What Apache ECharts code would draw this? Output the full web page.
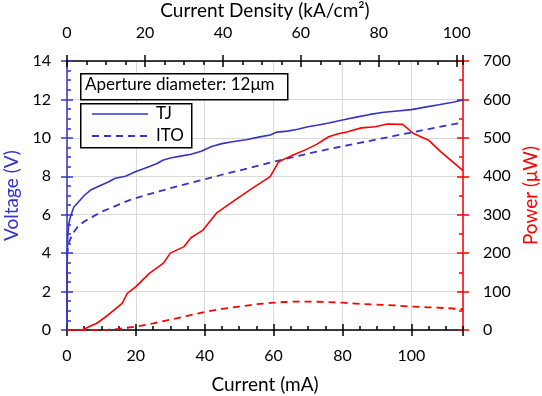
<!DOCTYPE html>
<html>
<head>
<meta charset="utf-8">
<script src="https://cdn.jsdelivr.net/npm/echarts@6/dist/echarts.min.js"></script>
<style>
  html, body { margin: 0; padding: 0; background: #fff; }
  #chart { width: 542px; height: 396px; }
</style>
</head>
<body>
<div id="chart"></div>
<script>
// voltage curves (V) vs current (mA)
var tjCurrent = [0, 0, 0.2, 0.5, 1, 2, 3, 5, 7, 10, 12, 14, 17, 20, 23, 26, 28, 30, 33, 36, 39, 42, 45, 48, 52, 56, 59, 61, 64, 67, 70, 73, 76, 80, 84, 88, 92, 96, 100, 104, 108, 112, 115];
var tjVoltage = [0, 2.9, 4.8, 5.5, 5.9, 6.4, 6.6, 7.0, 7.3, 7.55, 7.7, 7.9, 8.0, 8.25, 8.45, 8.65, 8.85, 8.95, 9.05, 9.15, 9.3, 9.55, 9.7, 9.8, 9.9, 10.05, 10.15, 10.3, 10.35, 10.45, 10.58, 10.67, 10.77, 10.93, 11.08, 11.22, 11.33, 11.4, 11.47, 11.6, 11.72, 11.85, 11.97];

var itoCurrent = [0, 0.3, 1, 2, 3, 5, 7.5, 10, 14, 18, 22, 26, 30, 35, 40, 45, 50, 55, 60, 65, 70, 75, 80, 85, 90, 95, 100, 105, 110, 115];
var itoVoltage = [3.9, 4.4, 4.75, 5.1, 5.35, 5.65, 5.9, 6.15, 6.45, 6.75, 6.97, 7.18, 7.38, 7.62, 7.85, 8.08, 8.3, 8.53, 8.76, 8.97, 9.18, 9.37, 9.56, 9.74, 9.92, 10.1, 10.28, 10.46, 10.64, 10.8];

// optical power curves (uW) vs current (mA)
var tjPowCurrent = [0, 4.5, 6.5, 8.5, 10, 12.5, 16, 17.5, 20, 24, 28, 30, 34, 36, 39.5, 43.5, 47.5, 53, 59, 61.5, 65.5, 69.5, 72.5, 76, 78.5, 81.5, 85.5, 89.5, 93, 97.5, 100.5, 105, 108.5, 115];
var tjPower = [0, 0, 9, 17, 26, 43, 69, 95, 113, 148, 174, 200, 217, 240, 260, 305, 330, 364, 399, 438, 455, 470, 483, 503, 510, 516, 526, 529, 536, 535, 512, 494, 464, 415];

var itoPowCurrent = [0, 9, 12, 15, 20, 25, 30, 35, 40, 45, 50, 55, 60, 65, 70, 75, 80, 85, 90, 95, 100, 105, 110, 115];
var itoPower = [0, 0, 1, 3, 9, 17, 27, 37, 47, 55, 61, 67, 71, 74, 74, 73, 71, 68, 66, 64, 61, 59, 57, 54];

var BLUE = '#3434c8';
var RED = '#f00';
var FONT = 'Lato';
var DASH = [7, 5];

function pairs(xs, ys) {
	var out = [];
	for (var i = 0; i < xs.length; i++) out.push([xs[i], ys[i]]);
	return out;
}

// axis that only draws ticks (to fake crossing and minor ticks)
function tickAxis(grid, pos, min, max, interval, inside, len, color) {
	return {
		type: 'value', gridIndex: grid, position: pos, min: min, max: max, interval: interval,
		axisLine: { show: false, onZero: false },
		axisTick: { show: len > 0, inside: inside, length: len, lineStyle: { color: color, width: 1.5 } },
		axisLabel: { show: false },
		splitLine: { show: false }
	};
}

var gridBox = { left: 67, right: 79, top: 61, bottom: 66, outerBoundsMode: 'none' };

var chart = echarts.init(document.getElementById('chart'), null, { renderer: 'canvas' });

chart.setOption({
	animation: false,
	textStyle: { fontFamily: FONT },
	grid: [gridBox, gridBox, gridBox],
	xAxis: [{
		type: 'value', gridIndex: 0, position: 'bottom', min: 0, max: 115, interval: 20,
		name: 'Current (mA)', nameLocation: 'middle', nameGap: 45,
		nameTextStyle: { fontFamily: FONT, fontSize: 19, color: '#000' },
		axisLine: { onZero: false, lineStyle: { color: '#000', width: 1.5 } },
		axisTick: { inside: true, length: 6, lineStyle: { color: '#000', width: 1.5 } },
		axisLabel: { margin: 18, fontSize: 16, color: '#000', showMaxLabel: false },
		splitLine: { show: true, lineStyle: { color: '#d9d9d9', width: 1 } }
	}, {
		type: 'value', gridIndex: 0, position: 'top', min: 0, max: 101.6, interval: 20,
		name: 'Current Density (kA/cm\u00b2)', nameLocation: 'middle', nameGap: 40,
		nameTextStyle: { fontFamily: FONT, fontSize: 19, color: '#000' },
		axisLine: { onZero: false, lineStyle: { color: '#000', width: 1.5 } },
		axisTick: { inside: true, length: 6, lineStyle: { color: '#000', width: 1.5 } },
		axisLabel: { margin: 20, fontSize: 16, color: '#000', showMaxLabel: false },
		splitLine: { show: false }
	},
		tickAxis(1, 'bottom', 0, 115, 5, true, 4, '#000'),
		tickAxis(1, 'top', 0, 101.6, 5, true, 4, '#000'),
		tickAxis(2, 'bottom', 0, 115, 20, false, 6, '#000'),
		tickAxis(2, 'top', 0, 101.6, 20, false, 6, '#000')
	],
	yAxis: [{
		type: 'value', gridIndex: 0, position: 'left', min: 0, max: 14, interval: 2,
		name: 'Voltage (V)', nameLocation: 'middle', nameGap: 45,
		nameTextStyle: { fontFamily: FONT, fontSize: 19, color: BLUE },
		axisLine: { onZero: false, lineStyle: { color: BLUE, width: 1.5 } },
		axisTick: { inside: true, length: 6, lineStyle: { color: BLUE, width: 1.5 } },
		minorTick: { show: true, splitNumber: 4, length: 4, lineStyle: { color: BLUE, width: 1.5 } },
		axisLabel: { margin: 16, fontSize: 16, color: '#000' },
		splitLine: { show: true, lineStyle: { color: '#d9d9d9', width: 1 } }
	}, {
		type: 'value', gridIndex: 0, position: 'right', min: 0, max: 700, interval: 100,
		name: 'Power (\u03bcW)', nameLocation: 'middle', nameGap: 58,
		nameTextStyle: { fontFamily: FONT, fontSize: 19, color: RED },
		axisLine: { onZero: false, lineStyle: { color: RED, width: 1.5 } },
		axisTick: { inside: true, length: 6, lineStyle: { color: RED, width: 1.5 } },
		minorTick: { show: true, splitNumber: 2, length: 4, lineStyle: { color: RED, width: 1.5 } },
		axisLabel: { margin: 20, fontSize: 16, color: '#000' },
		splitLine: { show: false }
	},
		tickAxis(1, 'left', 0, 14, 2, false, 6, BLUE),
		tickAxis(1, 'right', 0, 700, 100, false, 6, RED),
		tickAxis(2, 'left', 0, 14, 2, false, 0, BLUE),
		tickAxis(2, 'right', 0, 700, 100, false, 0, RED)
	],
	graphic: [
		{ type: 'rect', left: 80, top: 73, shape: { width: 207, height: 26 },
			style: { fill: '#fff', stroke: '#000', lineWidth: 1.5 }, z: 100 },
		{ type: 'text', left: 85, top: 76, z: 101,
			style: { text: 'Aperture diameter: 12\u03bcm', font: '17px ' + FONT, fill: '#000' } },
		{ type: 'rect', left: 80, top: 103, shape: { width: 111, height: 44 },
			style: { fill: '#fff', stroke: '#000', lineWidth: 1.5 }, z: 100 },
		{ type: 'line', shape: { x1: 92, y1: 114, x2: 148, y2: 114 }, z: 101,
			style: { stroke: BLUE, lineWidth: 1.6 } },
		{ type: 'text', left: 156, top: 105, z: 101,
			style: { text: 'TJ', font: '17px ' + FONT, fill: '#000' } },
		{ type: 'line', shape: { x1: 92, y1: 136, x2: 148, y2: 136 }, z: 101,
			style: { stroke: BLUE, lineWidth: 1.8, lineDash: DASH } },
		{ type: 'text', left: 156, top: 127, z: 101,
			style: { text: 'ITO', font: '17px ' + FONT, fill: '#000' } }
	],
	series: [{
		name: 'TJ', type: 'line', xAxisIndex: 0, yAxisIndex: 0,
		showSymbol: false, symbol: 'none',
		lineStyle: { color: BLUE, width: 1.6 },
		data: pairs(tjCurrent, tjVoltage)
	}, {
		name: 'ITO', type: 'line', xAxisIndex: 0, yAxisIndex: 0,
		showSymbol: false, symbol: 'none',
		lineStyle: { color: BLUE, width: 1.8, type: DASH },
		data: pairs(itoCurrent, itoVoltage)
	}, {
		name: 'TJ power', type: 'line', xAxisIndex: 0, yAxisIndex: 1,
		showSymbol: false, symbol: 'none',
		lineStyle: { color: RED, width: 1.6 },
		data: pairs(tjPowCurrent, tjPower)
	}, {
		name: 'ITO power', type: 'line', xAxisIndex: 0, yAxisIndex: 1,
		showSymbol: false, symbol: 'none',
		lineStyle: { color: RED, width: 1.8, type: DASH },
		data: pairs(itoPowCurrent, itoPower)
	}]
});
</script>
</body>
</html>
